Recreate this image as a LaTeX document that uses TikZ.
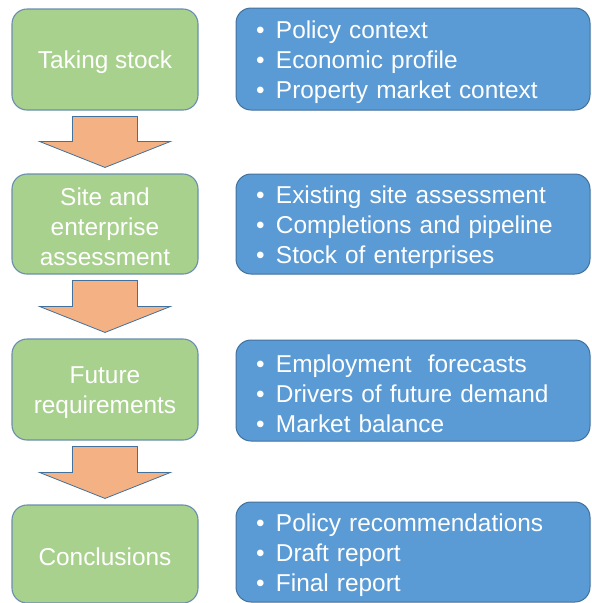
\documentclass[tikz,border=0pt]{standalone}
\usepackage{fontspec}
\setmainfont{Liberation Sans}
\usetikzlibrary{calc}
\definecolor{gfill}{HTML}{A9D18E}
\definecolor{bfill}{HTML}{5B9BD5}
\definecolor{ofill}{HTML}{F4B183}
\definecolor{edge}{HTML}{41719C}
\definecolor{gedge}{HTML}{6A8DB0}
\tikzset{
  stepbox/.style={draw=gedge, line width=1.1pt, fill=gfill, rounded corners=15pt,
    minimum width=186pt, inner sep=0pt, text=white, align=center,
    font=\fontsize{24.4}{30}\selectfont},
  listbox/.style={draw=edge, line width=1pt, fill=bfill, rounded corners=15pt,
    inner xsep=20pt, inner ysep=0pt, text width=314pt, text=white, align=left,
    font=\fontsize{24.4}{30}\selectfont},
  blockarrow/.style={draw=edge, line width=0.8pt, fill=ofill, line join=miter}
}
\newcommand{\st}{\rule{0pt}{24pt}}
\newcommand{\bl}{\makebox[20pt][l]{•}}
\newcommand{\blockarr}[2]{%
  \draw[blockarrow]
    ($(#1.south)+(-32.5,6)$) -- ($(#1.south)+(32.5,6)$) --
    ($(#2.north)+(32.5,-32)$) -- ($(#2.north)+(65.5,-32)$) --
    ($(#2.north)+(0,-6)$) --
    ($(#2.north)+(-65.5,-32)$) -- ($(#2.north)+(-32.5,-32)$) -- cycle;}
\begin{document}
\begin{tikzpicture}[x=1pt,y=-1pt]
\useasboundingbox (0,0) rectangle (592,603);
% green step boxes
\node[stepbox, minimum height=101pt] (g1) at (105,59.5) {\st Taking stock};
\node[stepbox, minimum height=100pt] (g2) at (105,224) {\st Site and\\enterprise\\assessment};
\node[stepbox, minimum height=101pt] (g3) at (105,389.5) {\st Future\\requirements};
\node[stepbox, minimum height=98pt] (g4) at (105,554) {\st Conclusions};
% blue list boxes
\node[listbox, minimum height=102pt] (b1) at (413,59) {\st\bl Policy context\\\bl Economic profile\\\bl Property market context};
\node[listbox, minimum height=100pt] (b2) at (413,224) {\st\bl Existing site assessment\\\bl Completions and pipeline\\\bl Stock of enterprises};
\node[listbox, minimum height=101pt] (b3) at (413,390.5) {\st\bl Employment\ \ forecasts\\\bl Drivers of future demand\\\bl Market balance};
\node[listbox, minimum height=100pt] (b4) at (413,552) {\st\bl Policy recommendations\\\bl Draft report\\\bl Final report};
% block arrows
\blockarr{g1}{g2}
\blockarr{g2}{g3}
\blockarr{g3}{g4}
\end{tikzpicture}
\end{document}
